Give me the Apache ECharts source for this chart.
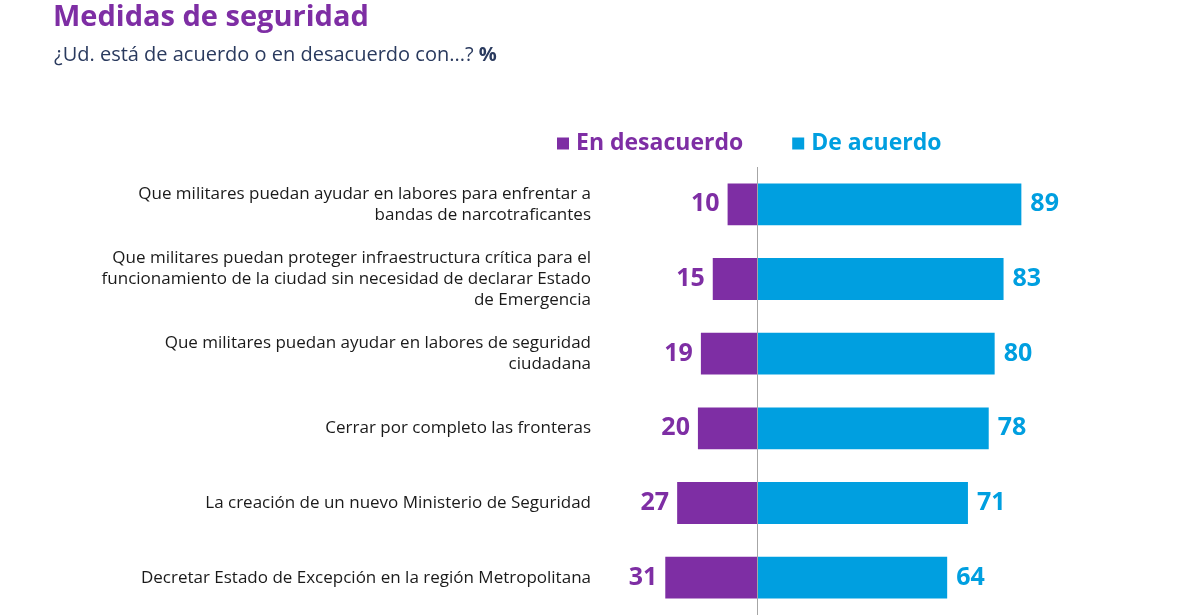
<!DOCTYPE html>
<html>
<head>
<meta charset="utf-8">
<script src="https://cdn.jsdelivr.net/npm/echarts@6/dist/echarts.min.js"></script>
<style>
html,body{margin:0;padding:0;background:#fff;}
#c{width:1200px;height:615px;}
</style>
</head>
<body>
<div id="c"></div>
<script>
const categories = [
  'Que militares puedan ayudar en labores para enfrentar a\nbandas de narcotraficantes',
  'Que militares puedan proteger infraestructura crítica para el\nfuncionamiento de la ciudad sin necesidad de declarar Estado\nde Emergencia',
  'Que militares puedan ayudar en labores de seguridad\nciudadana',
  'Cerrar por completo las fronteras',
  'La creación de un nuevo Ministerio de Seguridad',
  'Decretar Estado de Excepción en la región Metropolitana'
];
const enDesacuerdo = [10, 15, 19, 20, 27, 31];
const deAcuerdo = [89, 83, 80, 78, 71, 64];
const seriesNames = ['En desacuerdo', 'De acuerdo'];

const PURPLE = '#7E2EA4';
const BLUE = '#009FE0';
const FONT = '"Open Sans", sans-serif';

const chart = echarts.init(document.getElementById('c'), null, {renderer: 'canvas'});
chart.setOption({
  backgroundColor: '#fff',
  animation: false,
  textStyle: {fontFamily: FONT},
  title: [
    {
      text: 'Medidas de seguridad',
      left: 53, top: 3, padding: 0,
      textStyle: {fontFamily: FONT, fontSize: 29, fontWeight: 'bold', color: PURPLE}
    },
    {
      text: '¿Ud. está de acuerdo o en desacuerdo con...? {b|%}',
      left: 54, top: 45, padding: 0,
      textStyle: {
        fontFamily: FONT, fontSize: 20, fontWeight: 'normal', color: '#2A3A5E',
        rich: {b: {fontFamily: FONT, fontSize: 20, fontWeight: 'bold', color: '#2A3A5E'}}
      }
    }
  ],
  legend: {
    data: seriesNames,
    left: 557, top: 132, padding: 0,
    itemWidth: 12, itemHeight: 12,
    itemGap: 49,
    icon: 'rect',
    selectedMode: false,
    textStyle: {fontFamily: FONT, fontSize: 23, fontWeight: 'bold', color: 'inherit', padding: [0, 0, 0, 2]}
  },
  grid: {left: 600, right: 146, top: 167, bottom: 0, containLabel: false},
  xAxis: {
    type: 'value', min: -53, max: 100, show: false
  },
  yAxis: {
    type: 'category', inverse: true, data: categories,
    axisLine: {show: false}, axisTick: {show: false},
    axisLabel: {
      margin: 9, align: 'right',
      fontFamily: FONT, fontSize: 17, color: '#1a1a1a', lineHeight: 21
    }
  },
  series: [
    {
      name: seriesNames[0], type: 'bar', stack: 't', barWidth: '56%',
      itemStyle: {color: PURPLE},
      data: enDesacuerdo.map(v => -v),
      label: {
        show: true, position: 'left', distance: 8,
        formatter: p => Math.abs(p.value),
        fontFamily: FONT, fontSize: 25, fontWeight: 'bold', color: PURPLE
      },
      markLine: {
        silent: true, symbol: 'none',
        label: {show: false},
        lineStyle: {color: '#A6A6A6', width: 1, type: 'solid'},
        data: [{xAxis: 0}]
      }
    },
    {
      name: seriesNames[1], type: 'bar', stack: 't', barWidth: '56%',
      itemStyle: {color: BLUE},
      data: deAcuerdo,
      label: {
        show: true, position: 'right', distance: 9,
        fontFamily: FONT, fontSize: 25, fontWeight: 'bold', color: BLUE
      }
    }
  ]
});
</script>
</body>
</html>
